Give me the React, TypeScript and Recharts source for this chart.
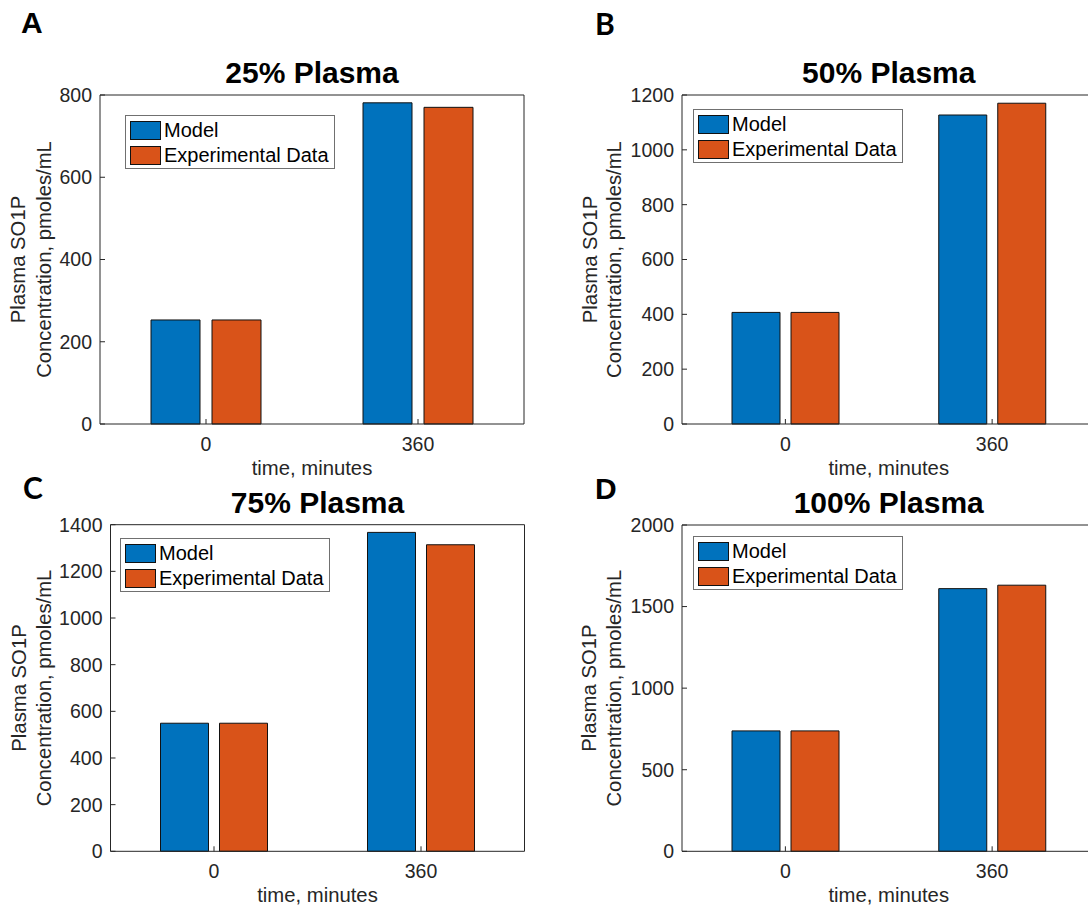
import React from 'react';
import { BarChart, Bar, XAxis, YAxis, Legend } from 'recharts';

// values (pmoles/mL)
const categories = ['0', '360'];
const model25 = [253, 781];
const exp25 = [253, 770];
const model50 = [407, 1127];
const exp50 = [407, 1170];
const model75 = [549, 1367];
const exp75 = [549, 1314];
const model100 = [738, 1610];
const exp100 = [738, 1631];

const ticks25 = [0, 200, 400, 600, 800];
const ticks50 = [0, 200, 400, 600, 800, 1000, 1200];
const ticks75 = [0, 200, 400, 600, 800, 1000, 1200, 1400];
const ticks100 = [0, 500, 1000, 1500, 2000];

const seriesNames = ['Model', 'Experimental Data'];
const titles = ['25% Plasma', '50% Plasma', '75% Plasma', '100% Plasma'];
const letters = ['A', 'B', 'C', 'D'];
const xLabel = 'time, minutes';
const yLabelLines = ['Plasma SO1P', 'Concentration, pmoles/mL'];

const BLUE = '#0072BD';
const ORANGE = '#D95319';
const AX = '#262626';
const FONT = '"Liberation Sans", Arial, Helvetica, sans-serif';

const W = 1100;
const H = 907;
const XH = 60;

type Layout = {
  left: number; right: number; top: number; bottom: number;
  legX: number; legY: number; yLab: [number, number];
  letterX: number; letterY: number; letterFont: string;
  catGap: number; barGap: number;
};

const layouts: Layout[] = [
  { left: 100, right: 524, top: 95, bottom: 424, legX: 125, legY: 115, yLab: [25, 51], letterX: 21, letterY: 33, letterFont: FONT, catGap: 51, barGap: 12 },
  { left: 682, right: 1095.5, top: 95, bottom: 424, legX: 693, legY: 109, yLab: [596.5, 621], letterX: 595, letterY: 35, letterFont: 'Lato, "Open Sans", sans-serif', catGap: 50, barGap: 11 },
  { left: 110.5, right: 524.5, top: 524.7, bottom: 851.3, legX: 120, legY: 538, yLab: [26, 51], letterX: 23, letterY: 499, letterFont: 'Lato, "Open Sans", sans-serif', catGap: 50, barGap: 11 },
  { left: 682, right: 1095.5, top: 525, bottom: 851.3, legX: 693, legY: 536, yLab: [596.5, 621], letterX: 595, letterY: 499, letterFont: FONT, catGap: 50, barGap: 11 },
];

const BoxLegend = (props: any) => {
  const payload = [...(props.payload || [])].sort(
    (a: any, b: any) => seriesNames.indexOf(a.value) - seriesNames.indexOf(b.value)
  );
  return (
    <div style={{ width: 210, height: 54, boxSizing: 'border-box', border: '1px solid #707070', background: '#fff', position: 'relative' }}>
      {payload.map((p: any, i: number) => (
        <div key={i} style={{ position: 'absolute', left: 4, top: 5 + i * 25, height: 19, display: 'flex', alignItems: 'center' }}>
          <span style={{ width: 31, height: 19, boxSizing: 'border-box', background: p.color, border: '1px solid #111' }} />
          <span style={{ marginLeft: 3, fontSize: 20, fontFamily: FONT, color: '#000', whiteSpace: 'nowrap', lineHeight: '19px' }}>{p.value}</span>
        </div>
      ))}
    </div>
  );
};

function Panel({ idx, model, exp, ticks }: { idx: number; model: number[]; exp: number[]; ticks: number[] }) {
  const L = layouts[idx];
  const data = categories.map((c, i) => ({ time: c, model: model[i], exp: exp[i] }));
  const max = ticks[ticks.length - 1];
  const cx = (L.left + L.right) / 2;
  const cy = (L.top + L.bottom) / 2;

  const titleContent = () => (
    <g>
      <text x={cx} y={L.top - 12} textAnchor="middle" fontFamily={FONT} fontWeight="bold" fontSize={30} fill="#000">{titles[idx]}</text>
      <text x={L.letterX} y={L.letterY} fontFamily={L.letterFont} fontWeight="bold" fontSize={30} fill="#000">{letters[idx]}</text>
    </g>
  );
  const xLabelContent = () => (
    <text x={cx} y={L.bottom + 51} textAnchor="middle" fontFamily={FONT} fontSize={20.3} fill={AX}>{xLabel}</text>
  );
  const yLabelContent = () => (
    <g>
      {yLabelLines.map((line, i) => (
        <text key={i} x={L.yLab[i]} y={cy} transform={`rotate(-90 ${L.yLab[i]} ${cy})`} textAnchor="middle" fontFamily={FONT} fontSize={20.3} fill={AX}>{line}</text>
      ))}
    </g>
  );

  return (
    <div style={{ position: 'absolute', left: 0, top: 0 }}>
      <BarChart
        width={W}
        height={H}
        data={data}
        margin={{ top: L.top - 1, bottom: H - L.bottom - XH, left: 0, right: W - L.right - 1 }}
        barCategoryGap={L.catGap}
        barGap={L.barGap}
      >
        <XAxis
          dataKey="time"
          height={XH}
          interval={0}
          tickSize={-5}
          tickMargin={18}
          axisLine={{ stroke: AX }}
          tickLine={{ stroke: AX }}
          tick={{ fill: AX, fontSize: 19.5, fontFamily: FONT }}
          label={{ content: xLabelContent }}
        />
        <XAxis
          xAxisId="top"
          orientation="top"
          dataKey="time"
          height={1}
          interval={0}
          tickSize={-5}
          tick={false}
          axisLine={{ stroke: AX }}
          tickLine={{ stroke: AX }}
          label={{ content: titleContent }}
        />
        <YAxis
          type="number"
          domain={[0, max]}
          ticks={ticks}
          interval={0}
          width={L.left}
          tickSize={-5}
          tickMargin={13}
          axisLine={{ stroke: AX }}
          tickLine={{ stroke: AX }}
          tick={{ fill: AX, fontSize: 19.5, fontFamily: FONT }}
          label={{ content: yLabelContent }}
        />
        <YAxis
          yAxisId="right"
          orientation="right"
          type="number"
          domain={[0, max]}
          ticks={ticks}
          interval={0}
          width={1}
          tickSize={-5}
          tick={false}
          axisLine={{ stroke: AX }}
          tickLine={{ stroke: AX }}
        />
        <Legend
          layout="horizontal"
          verticalAlign="middle"
          align="center"
          content={BoxLegend}
          wrapperStyle={{ left: L.legX, top: L.legY, width: 210, height: 54 }}
        />
        <Bar dataKey="model" name={seriesNames[0]} fill={BLUE} stroke="#111" strokeWidth={1} isAnimationActive={false} />
        <Bar dataKey="exp" name={seriesNames[1]} fill={ORANGE} stroke="#111" strokeWidth={1} isAnimationActive={false} />
      </BarChart>
    </div>
  );
}

export default function App() {
  return (
    <div style={{ position: 'fixed', left: 0, top: 0, width: 1088, height: 907, overflow: 'hidden', background: '#fff' }}>
      <Panel idx={0} model={model25} exp={exp25} ticks={ticks25} />
      <Panel idx={1} model={model50} exp={exp50} ticks={ticks50} />
      <Panel idx={2} model={model75} exp={exp75} ticks={ticks75} />
      <Panel idx={3} model={model100} exp={exp100} ticks={ticks100} />
    </div>
  );
}
